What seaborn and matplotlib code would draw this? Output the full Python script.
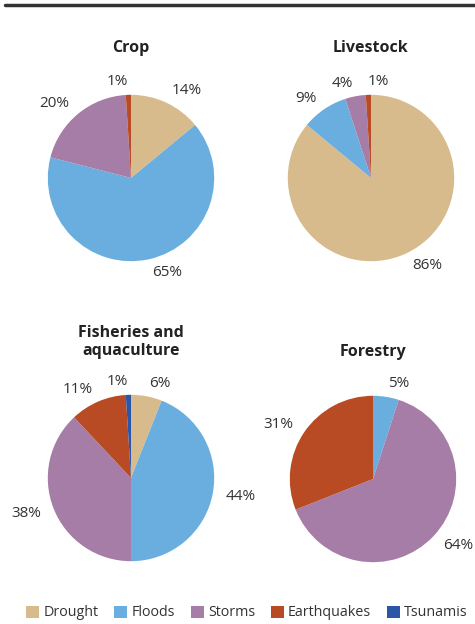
import matplotlib
matplotlib.use("Agg")
import matplotlib.pyplot as plt
from matplotlib.patches import Patch
from matplotlib.lines import Line2D
import seaborn as sns

# ── data ─────────────────────────────────────────────────────────────────────
hazards = ["Drought", "Floods", "Storms", "Earthquakes", "Tsunamis"]
colors = ["#D8BB8C", "#6AAEDF", "#A67DA7", "#B84B24", "#2B55A8"]

titles = ["Crop", "Livestock", "Fisheries and\naquaculture", "Forestry"]
crop = [14, 65, 20, 1, 0]
livestock = [86, 9, 4, 1, 0]
fisheries = [6, 44, 38, 11, 1]
forestry = [0, 5, 64, 31, 0]
shares = [crop, livestock, fisheries, forestry]

sns.set_theme(style="white")
plt.rcParams["font.family"] = ["Open Sans", "DejaVu Sans"]

fig = plt.figure(figsize=(4.75, 6.24), dpi=100)
W, H = 475, 624

# pie centres in pixels (x from left, y from top), axes side in pixels
centres = [(131, 178), (371, 178), (131, 478), (373, 479)]
side = 208
title_y = [48, 48, 342, 352]

for k, (share, title, (cx, cy), ty) in enumerate(zip(shares, titles, centres, title_y)):
    ax = fig.add_axes([(cx - side / 2) / W, (H - cy - side / 2) / H, side / W, side / H])
    vals = [v for v in share if v > 0]
    cols = [c for v, c in zip(share, colors) if v > 0]
    labs = [f"{v}%" for v in vals]
    _, texts = ax.pie(vals, colors=cols, labels=labs, startangle=90, counterclock=False,
                      labeldistance=1.16, wedgeprops=dict(linewidth=0),
                      textprops=dict(fontsize=11, color="#333333"))
    if k == 1:
        # the thin earthquake slice label sits just right of the top
        texts[-1].set_ha("left")
    fig.text(cx / W, 1 - ty / H, title, ha="center", va="center",
             fontsize=11.5, fontweight="bold", color="#222222", linespacing=1.1)

# top rule
fig.add_artist(Line2D([5 / W, 1], [1 - 5 / H, 1 - 5 / H], transform=fig.transFigure,
                      color="#333333", linewidth=2.5))

handles = [Patch(facecolor=c, edgecolor="none", label=h) for h, c in zip(hazards, colors)]
fig.legend(handles=handles, loc="center", bbox_to_anchor=(247 / W, 1 - 613 / H),
           ncol=5, frameon=False, fontsize=10.3, handlelength=0.9, handleheight=0.9,
           handletextpad=0.3, columnspacing=1.1, labelcolor="#333333")

fig.savefig("out.png", dpi=100)
